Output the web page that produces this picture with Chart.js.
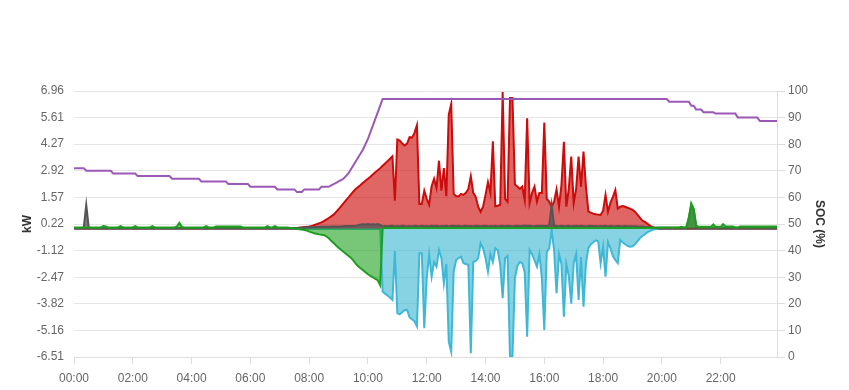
<!DOCTYPE html>
<html>
<head>
<meta charset="utf-8">
<script src="https://cdn.jsdelivr.net/npm/chart.js@4/dist/chart.umd.min.js"></script>
<style>
  body { margin: 0; background: #fff; }
  #wrap { width: 849px; height: 390px; position: relative; }
</style>
</head>
<body>
<div id="wrap"><canvas id="energyChart"></canvas></div>
<script>
  // 5 minute slots, 00:00 .. 23:55
  const timeLabels = [];
  for (let i = 0; i < 288; i++) {
      const h = String(Math.floor(i / 12)).padStart(2, '0');
      const m = String((i % 12) * 5).padStart(2, '0');
      timeLabels.push(h + ':' + m);
  }

  const kwTicks = [-6.51, -5.16, -3.82, -2.47, -1.12, 0.22, 1.57, 2.92, 4.27, 5.61, 6.96];

  // battery state of charge (%)
  const socData = [
      71,71,71,71,71,70,70,70,70,70,70,70,
      70,70,70,70,69,69,69,69,69,69,69,69,
      69,69,68,68,68,68,68,68,68,68,68,68,
      68,68,68,68,67,67,67,67,67,67,67,67,
      67,67,67,67,66,66,66,66,66,66,66,66,
      66,66,66,65,65,65,65,65,65,65,65,65,
      64,64,64,64,64,64,64,64,64,64,64,63,
      63,63,63,63,63,63,63,62,62,62,63,63,
      63,63,63,63,63,64,64,64,64,64.5,65,65.5,
      66,66.5,67,68,69,70.5,72,73.5,75,76.5,78,80,
      82,84.5,87,89.5,92,94.5,97,97,97,97,97,97,
      97,97,97,97,97,97,97,97,97,97,97,97,
      97,97,97,97,97,97,97,97,97,97,97,97,
      97,97,97,97,97,97,97,97,97,97,97,97,
      97,97,97,97,97,97,97,97,97,97,97,97,
      97,97,97,97,97,97,97,97,97,97,97,97,
      97,97,97,97,97,97,97,97,97,97,97,97,
      97,97,97,97,97,97,97,97,97,97,97,97,
      97,97,97,97,97,97,97,97,97,97,97,97,
      97,97,97,97,97,97,97,97,97,97,97,97,
      97,97,97,96,96,96,96,96,96,96,96,96,
      94.5,94.5,93,93,93,92,92,92,92,92,91.5,91.5,
      91.5,91.5,91.5,91.5,91.5,91.5,91.5,90,90,90,90,90,
      90,90,90,90,88.7,88.7,88.7,88.7,88.7,88.7,88.7,88.7
  ];

  // solar production (kW)
  const pvData = [
      0,0,0,0,0,0,0,0,0,0,0,0,
      0,0,0,0,0,0,0,0,0,0,0,0,
      0,0,0,0,0,0,0,0,0,0,0,0,
      0,0,0,0,0,0,0,0,0,0,0,0,
      0,0,0,0,0,0,0,0,0,0,0,0,
      0,0,0,0,0,0,0,0,0,0,0,0,
      0,0,0,0,0,0,0,0,0,0,0,0,
      0,0,0,0,0,0,0,0.01,0.03,0.05,0.07,0.08,
      0.1,0.13,0.17,0.21,0.26,0.31,0.37,0.45,0.53,0.61,0.7,0.83,
      0.97,1.12,1.27,1.42,1.56,1.71,1.86,2.0,2.1,2.2,2.31,2.42,
      2.52,2.62,2.73,2.84,2.95,3.05,3.17,3.29,3.41,3.53,3.65,1.41,
      4.5,4.45,4.3,4.2,4.3,4.62,4.6,4.84,5.22,1.24,1.24,1.91,
      1.5,1.2,2.14,2.52,2.05,3.43,1.91,3.06,1.63,5.76,6.3,1.75,
      1.64,1.62,1.75,1.7,1.8,2.0,2.64,1.8,1.6,1.1,0.84,1.1,
      1.7,2.35,1.8,4.41,1.12,1.15,1.2,6.91,1.5,1.35,6.6,6.6,
      2.22,2.12,2.0,2.12,1.44,5.58,1.28,1.8,2.12,1.36,1.8,1.8,
      5.36,1.5,1.36,1.1,1.36,1.98,1.1,2.2,4.39,1.1,2.0,3.64,
      1.28,2.0,3.64,2.12,3.89,2.12,0.85,0.8,0.75,0.72,0.7,0.68,
      0.9,1.7,0.85,1.3,1.6,1.95,1.0,1.1,1.14,1.1,1.05,1.0,
      0.94,0.85,0.7,0.55,0.4,0.33,0.25,0.15,0.08,0.04,0.02,0,
      0,0,0,0,0,0,0,0,0,0,0,0,
      0,0,0,0,0,0,0,0,0,0,0,0,
      0,0,0,0,0,0,0,0,0,0,0,0,
      0,0,0,0,0,0,0,0,0,0,0,0
  ];

  // house consumption (kW)
  const loadData = [
      0.02,0.02,0.02,0.02,0.05,1.19,0.05,0.02,0.02,0.02,0.02,0.02,
      0.02,0.02,0.02,0.02,0.02,0.02,0.02,0.02,0.02,0.02,0.02,0.02,
      0.02,0.02,0.02,0.02,0.02,0.02,0.02,0.02,0.02,0.02,0.02,0.02,
      0.02,0.02,0.02,0.02,0.02,0.02,0.02,0.02,0.02,0.02,0.02,0.02,
      0.02,0.02,0.02,0.02,0.02,0.02,0.02,0.02,0.02,0.02,0.02,0.02,
      0.02,0.02,0.02,0.02,0.02,0.02,0.02,0.02,0.02,0.02,0.02,0.02,
      0.02,0.02,0.02,0.02,0.02,0.02,0.02,0.02,0.02,0.02,0.02,0.02,
      0.02,0.02,0.02,0.02,0.02,0.02,0.02,0.02,0.03,0.04,0.05,0.06,
      0.06,0.06,0.07,0.07,0.08,0.08,0.08,0.09,0.09,0.1,0.1,0.1,
      0.1,0.1,0.11,0.12,0.12,0.13,0.13,0.14,0.16,0.2,0.21,0.2,
      0.22,0.2,0.21,0.2,0.22,0.18,0.1,0.12,0.1,0.12,0.13,0.1,
      0.12,0.1,0.14,0.12,0.1,0.12,0.1,0.13,0.12,0.1,0.14,0.11,
      0.12,0.1,0.13,0.11,0.14,0.1,0.12,0.11,0.13,0.1,0.12,0.14,
      0.11,0.13,0.1,0.12,0.14,0.11,0.12,0.1,0.13,0.12,0.1,0.12,
      0.14,0.1,0.12,0.11,0.13,0.1,0.12,0.14,0.11,0.13,0.12,0.1,
      0.12,0.14,0.11,0.13,0.15,0.12,0.14,0.12,0.11,0.13,0.12,0.14,
      0.12,0.13,0.15,1.19,0.15,0.12,0.1,0.13,0.11,0.12,0.14,0.1,
      0.12,0.14,0.11,0.13,0.12,0.1,0.12,0.13,0.11,0.12,0.1,0.12,
      0.11,0.13,0.1,0.12,0.11,0.1,0.12,0.11,0.1,0.12,0.1,0.11,
      0.1,0.11,0.1,0.09,0.1,0.08,0.07,0.06,0.05,0.04,0.03,0.03,
      0.03,0.03,0.03,0.03,0.03,0.03,0.03,0.03,0.03,0.03,0.03,0.5,
      1.2,0.95,0.1,0.03,0.03,0.03,0.03,0.03,0.03,0.03,0.03,0.03,
      0.03,0.03,0.03,0.03,0.03,0.03,0.03,0.03,0.03,0.03,0.03,0.03,
      0.03,0.03,0.03,0.03,0.03,0.03,0.03,0.03,0.03,0.03,0.03,0.03
  ];

  // battery power (kW, negative = charging)
  const batteryData = [
      0.05,0.05,0.05,0.05,0.05,0.05,0.05,0.05,0.05,0.05,0.05,0.05,
      0.12,0.1,0.05,0.05,0.05,0.05,0.05,0.12,0.05,0.05,0.05,0.05,
      0.05,0.12,0.05,0.05,0.05,0.05,0.05,0.05,0.12,0.05,0.05,0.05,
      0.05,0.05,0.05,0.05,0.05,0.05,0.1,0.28,0.08,0.05,0.05,0.05,
      0.05,0.05,0.05,0.05,0.05,0.05,0.12,0.05,0.05,0.05,0.1,0.1,
      0.1,0.1,0.1,0.1,0.1,0.1,0.1,0.1,0.1,0.05,0.05,0.05,
      0.05,0.05,0.05,0.05,0.05,0.05,0.05,0.12,0.05,0.05,0.12,0.05,
      0.05,0.05,0.05,0.05,0.03,0.02,0,-0.02,-0.04,-0.06,-0.08,-0.1,
      -0.16,-0.2,-0.24,-0.27,-0.3,-0.32,-0.33,-0.4,-0.5,-0.62,-0.74,-0.86,
      -0.98,-1.08,-1.18,-1.28,-1.38,-1.48,-1.62,-1.78,-1.92,-2.02,-2.12,-2.22,
      -2.32,-2.4,-2.47,-2.55,-2.62,-2.87,0.02,0.02,0.02,0.02,0.02,0.02,
      0.02,0.02,0.02,0.02,0.02,0.02,0.02,0.02,0.02,0.02,0.02,0.02,
      0.02,0.02,0.02,0.02,0.02,0.02,0.02,0.02,0.02,0.02,0.02,0.02,
      0.02,0.02,0.02,0.02,0.02,0.02,0.02,0.02,0.02,0.02,0.02,0.02,
      0.02,0.02,0.02,0.02,0.02,0.02,0.02,0.02,0.02,0.02,0.02,0.02,
      0.02,0.02,0.02,0.02,0.02,0.02,0.02,0.02,0.02,0.02,0.02,0.02,
      0.02,0.02,0.02,0.02,0.02,0.02,0.02,0.02,0.02,0.02,0.02,0.02,
      0.02,0.02,0.02,0.02,0.02,0.02,0.02,0.02,0.02,0.02,0.02,0.02,
      0.02,0.02,0.02,0.02,0.02,0.02,0.02,0.02,0.02,0.02,0.02,0.02,
      0.02,0.02,0.02,0.02,0.02,0.02,0.02,0.02,0.03,0.04,0.05,0.05,
      0.05,0.05,0.05,0.05,0.05,0.05,0.05,0.05,0.08,0.05,0.08,0.55,
      1.27,1.0,0.15,0.08,0.08,0.08,0.08,0.08,0.08,0.2,0.08,0.08,
      0.08,0.22,0.1,0.1,0.1,0.1,0.05,0.05,0.1,0.1,0.1,0.1,
      0.1,0.1,0.1,0.1,0.1,0.1,0.1,0.1,0.1,0.1,0.1,0.1
  ];

  // grid power (kW, negative = export)
  const gridData = [
      -0.03,-0.03,-0.03,-0.03,-0.03,-0.03,-0.03,-0.03,-0.03,-0.03,-0.03,-0.03,
      -0.03,-0.03,-0.03,-0.03,-0.03,-0.03,-0.03,-0.03,-0.03,-0.03,-0.03,-0.03,
      -0.03,-0.03,-0.03,-0.03,-0.03,-0.03,-0.03,-0.03,-0.03,-0.03,-0.03,-0.03,
      -0.03,-0.03,-0.03,-0.03,-0.03,-0.03,-0.03,-0.03,-0.03,-0.03,-0.03,-0.03,
      -0.03,-0.03,-0.03,-0.03,-0.03,-0.03,-0.03,-0.03,-0.03,-0.03,-0.03,-0.03,
      -0.03,-0.03,-0.03,-0.03,-0.03,-0.03,-0.03,-0.03,-0.03,-0.03,-0.03,-0.03,
      -0.03,-0.03,-0.03,-0.03,-0.03,-0.03,-0.03,-0.03,-0.03,-0.03,-0.03,-0.03,
      -0.03,-0.03,-0.03,-0.03,-0.03,-0.03,-0.03,-0.03,-0.03,-0.03,-0.03,-0.03,
      -0.03,-0.03,-0.03,-0.03,-0.03,-0.03,-0.03,-0.03,-0.03,-0.03,-0.03,-0.03,
      -0.03,-0.03,-0.03,-0.03,-0.03,-0.03,-0.03,-0.03,-0.03,-0.03,-0.03,-0.03,
      -0.03,-0.03,-0.03,-0.03,-0.03,-0.03,-3.2,-3.3,-3.4,-3.5,-3.62,-1.14,
      -4.29,-4.35,-4.25,-4.13,-4.13,-4.5,-4.6,-4.7,-4.95,-1.25,-1.25,-5.05,
      -2.5,-1.31,-2.44,-1.7,-1.93,-1.09,-1.5,-2.78,-1.8,-5.73,-6.24,-2.19,
      -1.6,-1.5,-1.43,-1.76,-1.8,-1.85,-6.32,-1.7,-1.65,-1.5,-0.75,-1.0,
      -1.5,-2.19,-1.3,-1.7,-1.0,-1.1,-1.85,-3.53,-1.5,-1.4,-6.49,-6.49,
      -2.5,-1.9,-1.7,-1.76,-2.2,-5.48,-1.09,-1.3,-1.6,-1.93,-1.3,-2.5,
      -5.14,-1.2,-1.0,-0.08,-1.1,-3.28,-1.3,-1.8,-4.47,-1.8,-2.4,-3.81,
      -1.76,-1.3,-3.62,-1.45,-3.96,-1.76,-1.0,-0.8,-0.7,-0.6,-0.65,-1.76,
      -0.92,-2.44,-0.7,-1.0,-1.4,-1.6,-1.76,-0.58,-0.7,-0.8,-0.88,-0.92,
      -0.9,-0.8,-0.65,-0.5,-0.38,-0.3,-0.2,-0.14,-0.08,-0.04,-0.03,-0.03,
      -0.03,-0.03,-0.03,-0.03,-0.03,-0.03,-0.03,-0.03,-0.03,-0.03,-0.03,-0.03,
      -0.03,-0.03,-0.03,-0.03,-0.03,-0.03,-0.03,-0.03,-0.03,-0.03,-0.03,-0.03,
      -0.03,-0.03,-0.03,-0.03,-0.03,-0.03,-0.03,-0.03,-0.03,-0.03,-0.03,-0.03,
      -0.03,-0.03,-0.03,-0.03,-0.03,-0.03,-0.03,-0.03,-0.03,-0.03,-0.03,-0.03
  ];

  Chart.defaults.font.family = "'Liberation Sans', Arial, sans-serif";
  Chart.defaults.font.size = 12;
  Chart.defaults.color = '#666';

  const area = (data, line, fillColor) => ({
      data: data,
      borderColor: line,
      backgroundColor: fillColor,
      borderWidth: 2,
      pointRadius: 0,
      tension: 0,
      fill: 'origin',
      yAxisID: 'y'
  });

  const ctx = document.getElementById('energyChart').getContext('2d');
  const energyChart = new Chart(ctx, {
      type: 'line',
      data: {
          labels: timeLabels,
          datasets: [
              {
                  label: 'SOC',
                  data: socData,
                  borderColor: '#9b59b6',
                  backgroundColor: '#9b59b6',
                  borderWidth: 2,
                  pointRadius: 0,
                  tension: 0,
                  fill: false,
                  yAxisID: 'y1'
              },
              area(batteryData, '#1e9e1e', 'rgba(30, 160, 30, 0.6)'),
              area(loadData, '#555555', 'rgba(85, 85, 85, 0.75)'),
              area(pvData, '#cc0b0b', 'rgba(204, 0, 0, 0.6)'),
              area(gridData, '#3eb8d6', 'rgba(56, 182, 209, 0.6)')
          ]
      },
      options: {
          responsive: true,
          maintainAspectRatio: false,
          animation: false,
          layout: { padding: { top: 91, left: 16, right: 18, bottom: 5 } },
          plugins: {
              legend: { display: false },
              tooltip: { enabled: false }
          },
          scales: {
              x: {
                  type: 'category',
                  afterBuildTicks: axis => {
                      axis.ticks = axis.ticks.filter(t => t.value % 24 === 0);
                  },
                  afterFit: axis => { axis.height = 28; },
                  grid: { drawOnChartArea: false, tickLength: 7, color: '#ddd' },
                  border: { color: '#ddd' },
                  ticks: { autoSkip: false, maxRotation: 0, padding: 7 }
              },
              y: {
                  position: 'left',
                  min: -6.51,
                  max: 6.96,
                  afterBuildTicks: axis => {
                      axis.ticks = kwTicks.map(v => ({ value: v }));
                  },
                  afterFit: axis => { axis.width = 58; },
                  grid: { color: '#e6e6e6', drawTicks: false },
                  border: { display: false },
                  ticks: { padding: 10, callback: v => v.toFixed(2) },
                  title: { display: true, text: 'kW', color: '#333', font: { weight: 'bold', size: 12 } }
              },
              y1: {
                  position: 'right',
                  min: 0,
                  max: 100,
                  afterFit: axis => { axis.width = 54; },
                  grid: { drawOnChartArea: false, tickLength: 8, color: '#ddd' },
                  border: { color: '#ddd' },
                  ticks: { stepSize: 10 },
                  title: { display: true, text: 'SOC (%)', color: '#333', font: { weight: 'bold', size: 12 } }
              }
          }
      }
  });
</script>
</body>
</html>
